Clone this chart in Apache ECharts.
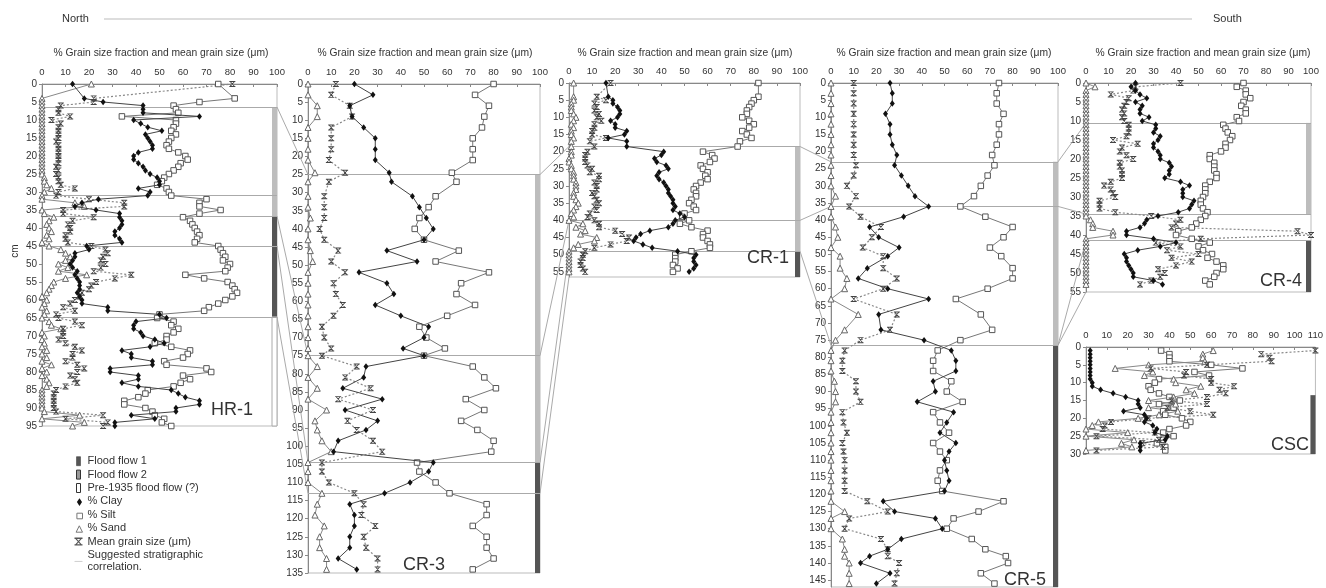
<!DOCTYPE html>
<html><head><meta charset="utf-8">
<script src="https://cdn.jsdelivr.net/npm/echarts@6/dist/echarts.min.js"></script>
<style>html,body{margin:0;padding:0;background:#fff}#c{width:1326px;height:588px}</style>
</head><body><div id="c"></div>
<script>
// ---------- DATA ----------
const coreNames = ['HR-1', 'CR-3', 'CR-1', 'CR-5', 'CR-4', 'CSC'];
const seriesNames = ['% Clay', '% Silt', '% Sand', 'Mean grain size (μm)'];
const floodNames = ['Flood flow 1', 'Flood flow 2', 'Pre-1935 flood flow (?)'];
const corrName = 'Suggested stratigraphic\ncorrelation.';
const axisTitle = '% Grain size fraction and mean grain size (μm)';

const hr1Depth = [0,4,5,6,7,8,9,10,11,12,13,14,15,16,17,18,19,20,21,22,23,24,25,26,27,28,29,30,31,32,33,34,35,36,37,38,39,40,41,42,43,44,45,46,47,48,49,50,51,52,53,54,55,56,57,58,59,60,61,62,63,64,65,66,67,68,69,70,71,72,73,74,75,76,77,78,79,80,81,82,83,84,85,86,87,88,89,90,91,92,93,94,95];
const hr1Clay = [13,18,26,43,43,43,67,39,42,45,51,44,45,46,47,47,41,39,39,41,43,44,46,49,50,50,41,46,45,24,17,14,23,33,33,34,34,33,31,31,33,34,19,20,14,14,13,12,13,15,14,15,16,16,16,15,16,17,17,28,28,50,53,40,39,39,42,43,48,52,46,34,38,38,47,47,29,29,41,41,34,41,55,58,61,67,67,57,57,38,48,31,31];
const hr1Silt = [75,82,67,56,57,58,34,57,57,56,55,57,55,54,53,54,58,61,62,59,58,56,54,52,51,49,53,54,55,70,67,67,76,67,60,63,64,65,66,67,66,65,75,76,77,78,77,80,79,78,61,69,79,81,82,83,81,78,75,71,69,50,49,56,55,58,56,53,53,48,55,63,62,60,52,53,70,72,60,63,59,56,45,44,41,35,35,44,47,48,52,51,55];
const hr1Sand = [21,0,0,0,0,0,0,0,0,0,0,0,0,0,0,0,0,0,0,0,0,0,0,1,1,2,4,1,0,0,14,18,0,1,5,3,2,3,4,2,3,0,3,8,10,12,10,7,11,7,19,10,5,4,3,2,0,2,1,0,2,1,0,3,4,8,0,1,0,1,0,2,0,2,0,4,0,2,0,2,3,2,0,0,0,0,0,0,1,16,0,18,13];
const hr1Mean = [81,22,22,8,7,7,12,4,8,7,7,7,7,6,7,7,7,7,7,7,6,7,6,7,7,8,14,7,6,20,35,35,9,9,22,13,11,12,12,10,10,11,21,27,28,26,25,27,25,22,38,31,23,21,20,17,16,14,12,9,14,6,7,14,17,9,9,9,7,10,14,17,13,13,10,15,18,15,12,14,15,10,6,5,5,5,5,5,6,26,10,28,26];

const cr3Depth = [0,3,6,9,12,15,18,21,24.5,27,31,34,37,40,43,46,49,52,55,58,61,64,67,70,73,75,78,81,84,87,90,93,95.5,98.5,101.5,104.5,107,110,113,116,119,122,125,128,131,134];
const cr3Clay = [20,28,18,19,24,29,29,29,35,36,45,48,51,54,50,34,47,22,34,37,29,40,52,50,41,50,25,24,15,32,16,30,25,13,11,54,52,44,33,18,20,20,18,18,13,21];
const cr3Silt = [80,72,78,76,75,71,71,71,62,64,55,52,48,46,50,65,55,78,66,64,72,60,48,51,59,50,71,76,81,68,76,66,73,80,79,47,48,55,61,77,77,71,77,77,80,71];
const cr3Sand = [0,0,4,4,0,0,0,0,3,0,0,0,1,0,0,1,2,0,0,0,0,0,0,0,0,0,4,0,4,0,8,3,4,6,10,0,0,0,6,4,3,7,5,5,8,8];
const cr3Mean = [12,10,18,19,10,10,10,9,16,9,7,7,7,5,7,13,10,16,11,12,15,11,6,7,10,6,21,16,27,13,28,17,21,28,32,6,6,9,20,24,23,29,24,25,30,30];

const cr1Depth = [0,4,5,6,7,8,9,10,11,12,13,14,15,16,17,18.5,20,21,22,23,24,25,26,27,28,29,30,31,32,33,34,35,36,37,38,39,40,41,42,43,44,45,46,47,48,49,50,51,52,53,54,55];
const cr1Clay = [16,17,19,19,21,22,22,21,18,20,20,25,24,17,25,25,41,40,37,38,42,43,39,38,39,41,42,43,43,44,45,45,46,45,48,50,46,45,43,35,31,29,28,32,36,47,55,54,54,55,54,52];
const cr1Silt = [82,82,80,79,78,77,77,75,78,80,78,75,77,79,74,73,58,62,63,61,57,58,60,59,60,57,55,54,55,55,53,52,54,55,50,49,52,48,53,60,58,58,60,61,61,53,46,46,46,45,47,45];
const cr1Sand = [2,2,2,1,1,1,2,3,2,1,2,1,1,2,1,1,1,1,0,0,1,1,2,2,2,3,3,3,2,2,3,4,3,2,1,2,0,6,3,7,5,12,11,4,2,0,0,0,0,0,0,0];
const cr1Mean = [18,12,16,11,12,11,13,12,14,11,11,10,10,16,9,11,8,7,7,7,8,10,9,13,13,11,12,12,10,11,12,13,11,12,9,8,11,13,13,20,23,26,25,18,11,7,6,6,5,5,6,7];

const cr5Depth = [0,3,6,9,12,15,18,21,24,27,30,33,36,39,42,45,48,50.5,54,57,60,63,67.5,72,75,78,81,84,87,90,93,96,99,102,105,107.5,110,113,116,119,122,125,127,130,133,136,138,140,143,146];
const cr5Clay = [26,27,27,24,26,26,27,29,28,31,34,37,43,32,17,21,30,25,16,12,25,43,21,22,41,53,55,55,45,46,38,54,51,48,55,52,50,51,52,50,23,28,46,49,31,25,17,13,26,20];
const cr5Silt = [74,73,73,76,74,74,73,71,72,69,66,63,57,68,80,76,70,75,80,80,69,55,66,71,57,47,45,45,53,51,58,45,48,52,45,48,51,48,47,49,76,65,54,51,62,68,77,78,66,72];
const cr5Sand = [0,0,0,0,0,0,0,0,0,0,0,2,0,0,2,3,0,4,4,7,6,0,12,6,2,0,0,0,1.5,2,2,0,0,0,0,0,0,0,0,0,0,6,0,0,5,6,6,8,8,8];
const cr5Mean = [10,10,10,10,10,10,10,10,11,10,7,11,8,13,22,18,14,23,23,29,23,10,29,26,13,6,5,5,11,11,13,5,5.5,7,5,5.5,6,6,6,6,16,25,8,6,22,25,25,30,29,28];

const cr4Depth = [0,1,2,3,4,5,6,7,8,9,10,11,12,13,14,15,16,17,18,19,20,21,22,23,24,25,26,27,28,29,30,31,32,33,34,35,36,37,38,39,40,41,42,43,44,45,46,47,48,49,50,51,52,53];
const cr4Clay = [22,20,22,24,27,22,25,24,24,28,25,31,31,30,33,32,30,30,32,33,33,37,38,37,37,35,42,46,43,43,43,48,47,46,41,32,27,26,24,18,18,30,40,33,23,17,18,18,19,20,21,21,30,34];
const cr4Silt = [70,67,71,71,73,70,69,71,71,67,68,61,62,63,65,64,62,62,60,55,55,57,57,57,58,58,55,53,53,53,52,51,51,52,54,53,51,49,47,41,40,47,55,50,52,56,54,58,61,61,58,57,53,55];
const cr4Sand = [0,4,0,0,0,0,0,0,0,0,0,0,0,0,0,0,0,0,0,0,0,0,0,0,0,0,0,0,0,0,0,0,0,0,0,0,2,3,3,12,12,0,0,0,0,0,0,0,0,0,0,0,0,0];
const cr4Mean = [42,22,21,11,19,18,17,16,17,16,17,19,19,19,18,12,23,16,15,18,21,15,15,16,16,16,11,8,11,12,13,6,6,6,13,29,42,40,38,94,100,51,31,42,36,50,38,47,40,32,35,33,29,24];

const cscDepth = [1,2,3,4,5,6,7,8,9,10,11,12,13,14,15,16,17,18,19,20,21,22,23,24,25,26,27,28,29];
const cscClay = [2,2,2,2,2,2,2,2,2,3,3,7,13,19,25,25,26,18,28,29,28,32,34,33,39,38,26,26,26];
const cscSilt = [36,40,40,40,60,75,52,59,35,33,30,31,35,40,45,35,42,37,38,46,50,48,40,37,42,37,34,38,38];
const cscSand = [61,56,56,57,30,14,32,28,42,43,55,48,52,42,30,43,30,44,35,25,6,3,0,20,0,23,17,22,0];
const cscMean = [110,84,88,89,58,31,48,47,60,60,71,64,67,58,41,58,39,50,61,30,12,9,8,33,5,35,27,37,5];

// flood flow depth ranges [top, bottom] (cm)
const hr1Flood1 = [[36.7, 64.7]], hr1Flood2 = [[6.4, 36.7]], hr1Pre = [[64.7, 95]];
const cr3Flood1 = [[104.5, 135]], cr3Flood2 = [[25, 104.5]];
const cr1Flood1 = [[49, 56.5]], cr1Flood2 = [[18.5, 49]];
const cr5Flood1 = [[76.5, 147]], cr5Flood2 = [[23, 76.5]];
const cr4Flood1 = [[41.5, 55]], cr4Flood2 = [[10.5, 34.5]];
const cscFlood1 = [[13.5, 30]];

// stratigraphic correlation depths (cm) in each core
const hr1Corr = [6.4, 31, 36.7, 45, 64.7];
const cr3Corr = [25, 75, 104.5, 113];
const cr1Corr = [18.5, 40, 49];
const cr5Corr = [23, 36, 76.5];
const cr4Corr = [10.5, 34.5, 41.5];
const cscCorr = [];
// links: [core A, depth A, core B, depth B]
const corrLinks = [[0,6.4,1,25],[0,36.7,1,75],[0,45,1,104.5],[0,64.7,1,113],
  [1,25,2,18.5],[1,75,2,40],[1,104.5,2,49],[1,113,2,56.5],
  [2,18.5,3,23],[2,40,3,36],[2,49,3,76.5],
  [3,23,4,10.5],[3,36,4,34.5],[3,76.5,4,41.5],[3,76.5,4,55]];

// axis extents
const xMaxes = [100, 100, 100, 100, 100, 110];
const yMaxes = [95, 135, 56.5, 147, 55, 30];

// ---------- LAYOUT ----------
const FONT = '"Liberation Sans", Arial, Helvetica, sans-serif';
const grids = [
  {left: 42, top: 84, width: 235, height: 342},
  {left: 308, top: 84, width: 232, height: 489},
  {left: 569, top: 83, width: 231, height: 194},
  {left: 831, top: 83, width: 227, height: 504},
  {left: 1086, top: 83, width: 225, height: 209},
  {left: 1086, top: 347, width: 231, height: 107}
];
const titleX = [161, 425, 685, 944, 1203, null];
const labelPos = [[232, 410], [424, 565], [768, 258], [1025, 580], [1281, 281], [1290, 445]];

const cores = [
  {depth: hr1Depth, vals: [hr1Clay, hr1Silt, hr1Sand, hr1Mean], flood: [hr1Flood1, hr1Flood2, hr1Pre], corr: hr1Corr},
  {depth: cr3Depth, vals: [cr3Clay, cr3Silt, cr3Sand, cr3Mean], flood: [cr3Flood1, cr3Flood2, []], corr: cr3Corr},
  {depth: cr1Depth, vals: [cr1Clay, cr1Silt, cr1Sand, cr1Mean], flood: [cr1Flood1, cr1Flood2, []], corr: cr1Corr},
  {depth: cr5Depth, vals: [cr5Clay, cr5Silt, cr5Sand, cr5Mean], flood: [cr5Flood1, cr5Flood2, []], corr: cr5Corr},
  {depth: cr4Depth, vals: [cr4Clay, cr4Silt, cr4Sand, cr4Mean], flood: [cr4Flood1, cr4Flood2, []], corr: cr4Corr},
  {depth: cscDepth, vals: [cscClay, cscSilt, cscSand, cscMean], flood: [cscFlood1, [], []], corr: cscCorr}
];

const meanPath = 'path://M0,0H10V1.6H0Z M0,8.4H10V10H0Z M1.2,1.6H3L8.8,8.4H7Z M7,1.6H8.8L3,8.4H1.2Z';
const seriesStyles = [
  {symbol: 'diamond', symbolSize: [5, 6.5], itemStyle: {color: '#111'}, lineStyle: {color: '#444', width: 1}},
  {symbol: 'rect', symbolSize: 5.5, itemStyle: {color: '#fff', borderColor: '#555', borderWidth: 1}, lineStyle: {color: '#777', width: 1}},
  {symbol: 'triangle', symbolSize: 6, itemStyle: {color: '#fff', borderColor: '#666', borderWidth: 1}, lineStyle: {color: '#888', width: 1}},
  {symbol: meanPath, symbolSize: 6, itemStyle: {color: '#444'}, lineStyle: {color: '#888', width: 1.2, type: [2, 2]}}
];
const floodStyles = [
  {color: '#555'},
  {color: '#bdbdbd'},
  {color: '#fff', borderColor: '#aaa', borderWidth: 1}
];

const xAxes = [], yAxes = [], series = [];
cores.forEach((c, i) => {
  xAxes.push({
    gridIndex: i, type: 'value', position: 'top', min: 0, max: xMaxes[i], interval: 10,
    axisLine: {show: true, lineStyle: {color: '#888'}},
    axisTick: {show: true, inside: true, length: 3, lineStyle: {color: '#888'}},
    axisLabel: {fontSize: 9.5, color: '#333', margin: 7, fontFamily: FONT},
    splitLine: {show: false}
  });
  yAxes.push({
    gridIndex: i, type: 'value', inverse: true, min: 0, max: yMaxes[i], interval: 5,
    axisLine: {show: true, lineStyle: {color: '#888'}},
    axisTick: {show: true, length: 3, lineStyle: {color: '#888'}},
    axisLabel: {fontSize: 10, color: '#333', margin: 5, fontFamily: FONT, showMaxLabel: yMaxes[i] % 5 === 0},
    splitLine: {show: false}
  });
  // correlation lines inside the core
  series.push({
    type: 'line', name: corrName, xAxisIndex: i, yAxisIndex: i, data: [], symbol: 'none',
    lineStyle: {color: '#aaa', width: 1}, itemStyle: {color: '#aaa'}, z: 1,
    markLine: {silent: true, symbol: ['none', 'none'], label: {show: false}, animation: false,
      lineStyle: {color: '#aaa', width: 1, type: 'solid'},
      data: c.corr.map(d => ({yAxis: d}))}
  });
  // flood flow bars
  c.flood.forEach((ranges, f) => {
    if (!ranges.length) return;
    series.push({
      type: 'custom', name: floodNames[f], xAxisIndex: i, yAxisIndex: i, data: ranges,
      encode: {y: [0, 1]}, itemStyle: floodStyles[f], silent: true, z: 3,
      renderItem: (params, api) => {
        const a = api.coord([xMaxes[i], api.value(0)]);
        const b = api.coord([xMaxes[i], api.value(1)]);
        return {type: 'rect', shape: {x: a[0] - 5, y: a[1], width: 5, height: b[1] - a[1]}, style: api.style()};
      }
    });
  });
  // grain size series
  c.vals.forEach((arr, s) => {
    const st = seriesStyles[s];
    series.push({
      type: 'line', name: seriesNames[s], xAxisIndex: i, yAxisIndex: i,
      data: c.depth.map((d, k) => [arr[k], d]),
      symbol: st.symbol, symbolSize: st.symbolSize, showSymbol: true,
      itemStyle: st.itemStyle, lineStyle: st.lineStyle, clip: false, z: 5 + (s === 0 ? 2 : 0)
    });
  });
});

const texts = [];
texts.push({type: 'text', x: 62, y: 19, style: {text: 'North', font: '11px ' + FONT, fill: '#333', verticalAlign: 'middle'}});
texts.push({type: 'text', x: 1213, y: 19, style: {text: 'South', font: '11px ' + FONT, fill: '#333', verticalAlign: 'middle'}});
texts.push({type: 'line', shape: {x1: 104, y1: 19, x2: 1192, y2: 19}, style: {stroke: '#bbb', lineWidth: 1.2}});
texts.push({type: 'text', x: 15, y: 251, rotation: Math.PI / 2, style: {text: 'cm', font: '10px ' + FONT, fill: '#333', align: 'center', verticalAlign: 'middle'}});
titleX.forEach(x => {
  if (x == null) return;
  texts.push({type: 'text', x: x, y: 53, style: {text: axisTitle, font: '10.3px ' + FONT, fill: '#333', align: 'center', verticalAlign: 'middle'}});
});
labelPos.forEach((p, i) => {
  texts.push({type: 'text', x: p[0], y: p[1], z: 10, style: {text: coreNames[i], font: '18px ' + FONT, fill: '#333', align: 'center', verticalAlign: 'middle'}});
});

const option = {
  backgroundColor: '#fff',
  animation: false,
  textStyle: {fontFamily: FONT},
  grid: grids.map(g => Object.assign({show: true, borderColor: '#bbb', borderWidth: 1, backgroundColor: 'transparent', containLabel: false}, g)),
  xAxis: xAxes,
  yAxis: yAxes,
  legend: {
    orient: 'vertical', left: 69, top: 450, itemWidth: 8, itemHeight: 9, itemGap: 1, selectedMode: false,
    textStyle: {fontSize: 11, color: '#333', fontFamily: FONT, lineHeight: 12.4},
    data: [
      {name: floodNames[0], icon: 'path://M0,0H4V9H0Z', itemStyle: {color: '#555', borderColor: '#333', borderWidth: 0.5}},
      {name: floodNames[1], icon: 'path://M0,0H4V9H0Z', itemStyle: {color: '#999', borderColor: '#333', borderWidth: 1}},
      {name: floodNames[2], icon: 'path://M0,0H4V9H0Z', itemStyle: {color: '#fff', borderColor: '#333', borderWidth: 1}},
      {name: seriesNames[0], icon: 'path://M-2,-2M5,0L9,6L5,12L1,6Z', itemStyle: {color: '#111', borderWidth: 0}},
      {name: seriesNames[1], icon: 'path://M-3,-3M0,0H7V7H0Z', itemStyle: {color: '#fff', borderColor: '#777', borderWidth: 1}},
      {name: seriesNames[2], icon: 'path://M-2,-2M4,0L8,8H0Z', itemStyle: {color: '#fff', borderColor: '#777', borderWidth: 1}},
      {name: seriesNames[3], icon: meanPath, itemStyle: {color: '#555', borderWidth: 0}},
      {name: corrName, icon: 'path://M0,0H20V1.2H0Z', itemStyle: {color: '#999', borderWidth: 0}}
    ]
  },
  graphic: texts,
  series: series
};

const chart = echarts.init(document.getElementById('c'), null, {renderer: 'canvas'});
chart.setOption(option);
const conns = corrLinks.map(([a, da, b, db]) => {
  const p = chart.convertToPixel({gridIndex: a}, [xMaxes[a], da]);
  const q = chart.convertToPixel({gridIndex: b}, [0, db]);
  return {type: 'line', silent: true, z: 1, shape: {x1: p[0], y1: p[1], x2: q[0], y2: q[1]}, style: {stroke: '#aaa', lineWidth: 1}};
});
chart.setOption({graphic: texts.concat(conns)});
</script>
</body></html>
